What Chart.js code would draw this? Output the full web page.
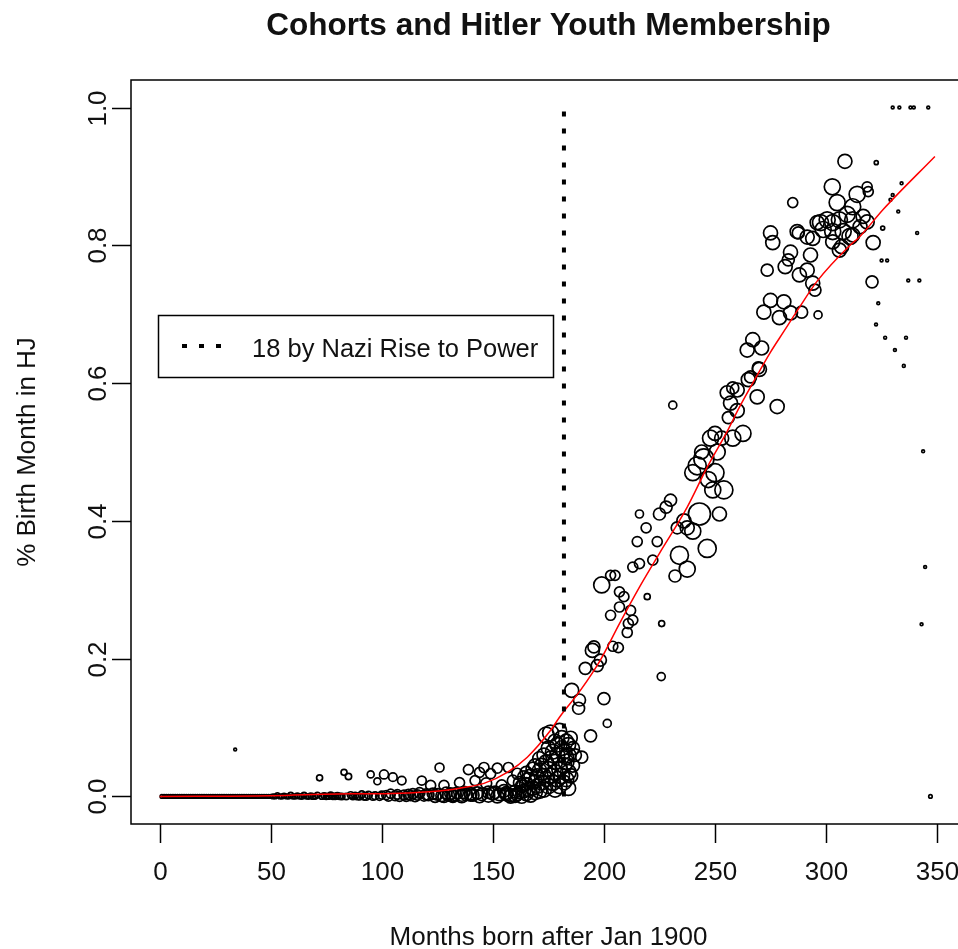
<!DOCTYPE html>
<html>
<head>
<meta charset="utf-8">
<script src="https://cdn.jsdelivr.net/npm/chart.js@4.4.0/dist/chart.umd.min.js"></script>
<style>
html,body{margin:0;padding:0;background:#fff;overflow:hidden;}
canvas{display:block;}
</style>
</head>
<body>
<canvas id="mycanvas" width="980" height="949"></canvas>
<script>
// months born after Jan 1900 (one entry per plotted cohort)
var birthMonth = [
	1,2,3,4,5,6,7,8,9,10,
	11,12,13,14,15,16,17,18,19,20,
	21,22,23,24,25,26,27,28,29,30,
	31,32,33,34,35,36,37,38,39,40,
	41,42,43,44,45,46,47,48,49,50,
	34,
	51,52,53,54,55,56,57,58,59,60,
	61,62,63,64,65,66,67,68,69,70,
	71,72,73,74,75,76,77,78,79,80,
	81,82,83,84,85,86,87,88,89,90,
	91,92,93,94,95,96,97,98,99,100,
	101,102,103,104,105,106,107,108,109,110,
	111,112,113,114,115,116,117,118,119,120,
	121,122,123,124,125,126,127,128,129,130,
	131,132,133,134,135,136,137,138,139,140,
	141,142,143,144,145,146,147,148,149,150,
	151,152,153,154,155,156,157,158,159,160,
	128,132,136,140,144,148,152,156,158,160,
	161,161,162,162,163,163,164,164,165,165,
	165,166,166,167,167,168,168,169,169,169,
	170,170,171,171,171,172,172,173,173,173,
	174,174,174,175,175,175,176,176,176,177,
	177,178,178,178,179,179,179,180,180,181,
	181,181,182,182,183,183,183,184,184,184,
	178,180,182,184,185,186,186,187,185,183,
	185.5,188.6,189,190,191.6,194,194.8,195.5,197,198.4,
	199,200,201.5,203,205,203,206.5,207,207,209,
	210.5,211,212,213,213,216,215,216,219,219.5,
	222,224,225,225.8,226,228,231,232,234,237.5,
	237.5,240,243,245,246.5,248,250,249,252,254,
	255.5,257,258,260,262.6,264.5,265,266,267,269,
	269.5,270,271,272,273.5,275,275,276,278,279,
	281,281.6,283,284,284,285,287,287.5,288,289,
	291.5,291.5,293,294,294,295,296,296.4,297.5,298.7,
	300.5,302.8,303,303,303,305,306,306,307,307.7,
	308.5,309.5,310.8,312,312,312,314,315.3,316.7,318.5,
	318.5,319,320.7,321.2,322.6,325.5,240,242,244,247,
	250,251,253,256,258,260,236,230,233,204,
	329,330,334,332.5,341,325,327.5,337,342,323.5,
	322.5,326.6,336,331,335,343.7,344.6,343,347,330,
	333,338,339.5,346
];
// share of the birth month in the Hitler Youth
var shareHJ = [
	0,0,0,0,0,0,0,0,0,0,
	0,0,0,0,0,0,0,0,0,0,
	0,0,0,0,0,0,0,0,0,0,
	0,0,0,0,0,0,0,0,0,0,
	0,0,0,0,0,0,0,0,0,0,
	0.068,
	0,0,0.002,0,0,0.001,0,0,0.002,0,
	0,0.001,0,0,0.002,0,0,0.001,0,0,
	0.002,0.027,0,0.001,0,0,0.002,0,0,0.001,
	0,0,0.035,0,0.029,0.002,0,0.001,0,0,
	0.003,0,0,0.002,0.032,0,0.001,0.022,0,0.002,
	0.032,0.002,0,0.004,0.028,0.001,0.003,0,0.023,0.002,
	0,0.003,0.001,0.004,0,0.002,0.005,0.023,0.001,0.003,
	0.002,0.016,0.004,0,0.003,0.042,0.001,0.016,0.005,0.002,
	0.004,0,0.003,0.005,0.02,0.002,0.006,0.003,0.039,0.004,
	0.002,0.023,0.005,0.035,0.003,0.042,0.019,0.006,0.033,0.004,
	0.006,0.041,0.003,0.016,0.008,0.005,0.042,0.002,0.023,0.007,
	0,0.001,0,0.002,0,0.001,0,0.003,0,0.001,
	0.003,0.033,0.006,0.02,0,0.015,0.008,0.028,0.004,0.018,
	0.035,0.01,0.025,0.002,0.03,0.012,0.04,0.006,0.022,0.045,
	0.015,0.03,0.008,0.038,0.055,0.02,0.045,0.01,0.03,0.06,
	0.025,0.05,0.089,0.015,0.04,0.07,0.03,0.055,0.092,0.02,
	0.065,0.035,0.05,0.08,0.025,0.06,0.075,0.04,0.096,0.03,
	0.07,0.085,0.045,0.065,0.05,0.08,0.057,0.035,0.06,0.075,
	0.01,0.015,0.02,0.012,0.03,0.045,0.07,0.06,0.085,0.025,
	0.154,0.128,0.14,0.057,0.186,0.088,0.212,0.217,0.19,0.198,
	0.307,0.142,0.106,0.321,0.321,0.263,0.216,0.297,0.275,0.29,
	0.238,0.251,0.27,0.256,0.333,0.338,0.37,0.41,0.39,0.29,
	0.343,0.37,0.41,0.174,0.251,0.42,0.568,0.32,0.35,0.33,
	0.39,0.385,0.41,0.49,0.36,0.52,0.527,0.445,0.41,0.445,
	0.586,0.571,0.593,0.59,0.527,0.648,0.605,0.609,0.663,0.58,
	0.622,0.62,0.651,0.703,0.764,0.818,0.72,0.804,0.566,0.695,
	0.718,0.769,0.779,0.79,0.702,0.862,0.82,0.818,0.757,0.703,
	0.812,0.764,0.786,0.745,0.81,0.735,0.833,0.699,0.833,0.823,
	0.837,0.885,0.833,0.82,0.805,0.862,0.837,0.793,0.798,0.82,
	0.922,0.845,0.813,0.856,0.837,0.815,0.874,0.827,0.842,0.885,
	0.834,0.878,0.747,0.804,0.92,0.825,0.47,0.48,0.5,0.46,
	0.47,0.5,0.52,0.55,0.52,0.56,0.4,0.43,0.39,0.218,
	0.866,0.873,0.89,0.849,0.818,0.778,0.778,0.749,0.749,0.716,
	0.685,0.666,0.666,0.648,0.625,0.501,0.333,0.25,0,1,
	1,1,1,1
];
// respondents per birth month (circle area)
var respondents = [
	3,3,3,3,3,3,3,3,3,3,
	3,3,3,3,3,3,3,3,3,3,
	3,3,3,3,3,3,3,3,3,3,
	3,3,3,3,3,3,3,3,3,3,
	3,3,3,3,3,3,3,3,3,3,
	2,
	5,5,5,5,6,6,5,6,7,6,
	6,7,6,7,7,6,7,7,8,7,
	8,9,8,8,9,8,9,9,9,10,
	9,10,9,10,10,11,10,11,11,12,
	12,13,14,14,12,14,15,12,15,16,
	20,20,22,20,18,24,22,24,18,24,
	24,26,24,26,28,26,28,20,28,30,
	30,25,32,34,32,20,34,25,34,36,
	34,36,38,36,25,38,36,38,25,38,
	38,25,38,25,38,25,30,38,25,40,
	38,25,40,30,40,40,25,42,30,42,
	36,36,40,36,40,40,42,42,44,44,
	42,30,44,36,46,40,44,40,48,42,
	36,48,44,50,44,50,46,52,48,44,
	52,48,54,50,46,54,50,56,52,48,
	56,52,64,58,54,50,58,54,64,60,
	54,60,56,50,60,56,52,60,49,60,
	56,52,60,56,60,52,56,60,56,52,
	56,56,52,52,50,44,44,40,44,56,
	49,36,36,36,36,36,49,36,36,36,
	64,36,16,25,25,25,25,25,25,25,
	25,25,25,25,25,25,25,16,25,9,
	25,25,36,16,9,36,16,36,81,64,
	49,64,121,100,81,64,49,64,49,81,
	49,49,36,49,64,49,49,36,49,49,
	36,49,49,49,36,49,49,49,49,49,
	49,49,36,49,49,25,49,36,49,36,
	49,49,49,49,49,36,49,16,64,64,
	64,64,64,64,49,64,64,49,49,64,
	49,64,64,64,64,49,64,49,49,25,
	49,25,36,49,4,4,64,81,49,64,
	81,64,49,36,64,49,49,36,36,25,
	2,2,2,2,2,2,2,2,2,2,
	2,2,2,2,2,2,2,2,3,2,
	2,2,2,2
];

// smoothed fit (red line)
var fitMonth = [0,50,86,101,123,135,146,156.5,165.5,176,180,189.4,198.4,207,216,225,237.5,246.5,255.5,261,267,275,281,288,296,310.8,315,325.7,349];
var fitShare = [0,0.001,0.004,0.004,0.007,0.012,0.019,0.035,0.057,0.096,0.115,0.154,0.198,0.251,0.304,0.353,0.42,0.478,0.53,0.565,0.6,0.645,0.675,0.71,0.748,0.8,0.812,0.852,0.929];

// cohort that was 18 when the Nazis came to power
var cutoffMonth = 182;
var legendText = "18 by Nazi Rise to Power";

var xTicks = [0,50,100,150,200,250,300,350];
var yTicks = [0,0.2,0.4,0.6,0.8,1.0];

var font = '"Liberation Sans", Arial, sans-serif';

var points = [];
for (var i in birthMonth) {
	points.push({x: birthMonth[i], y: shareHJ[i]});
}
var fitLine = [];
for (var j in fitMonth) {
	fitLine.push({x: fitMonth[j], y: fitShare[j]});
}

// draws the R style box, ticks, labels, title and legend
var rFrame = {
	id: 'rFrame',
	afterDraw: function(chart) {
		var c = chart.ctx, a = chart.chartArea;
		var xs = chart.scales.x, ys = chart.scales.y;
		c.save();
		c.strokeStyle = '#000';
		c.fillStyle = '#111';
		c.lineWidth = 1.5;
		c.strokeRect(a.left, a.top, a.right - a.left, a.bottom - a.top);

		c.font = '26px ' + font;
		c.textAlign = 'center';
		c.textBaseline = 'alphabetic';
		xTicks.forEach(function(v) {
			var px = Math.round(xs.getPixelForValue(v)) + 0.5;
			c.beginPath(); c.moveTo(px, a.bottom); c.lineTo(px, a.bottom + 19); c.stroke();
			c.fillText(String(v), px, a.bottom + 56);
		});
		yTicks.forEach(function(v) {
			var py = Math.round(ys.getPixelForValue(v)) + 0.5;
			c.beginPath(); c.moveTo(a.left - 19, py); c.lineTo(a.left, py); c.stroke();
			c.save();
			c.translate(a.left - 25, py);
			c.rotate(-Math.PI / 2);
			c.fillText(v.toFixed(1), 0, 0);
			c.restore();
		});

		var midX = (a.left + a.right) / 2;
		c.fillText('Months born after Jan 1900', midX, a.bottom + 121);
		c.save();
		c.translate(35, (a.top + a.bottom) / 2);
		c.rotate(-Math.PI / 2);
		c.fillText('% Birth Month in HJ', 0, 0);
		c.restore();

		c.font = 'bold 31.5px ' + font;
		c.fillText('Cohorts and Hitler Youth Membership', midX, 35);

		// legend
		c.lineWidth = 1.5;
		c.strokeRect(158.5, 315.5, 395, 62);
		c.lineWidth = 4;
		c.setLineDash([5, 12]);
		c.beginPath(); c.moveTo(182, 346); c.lineTo(224, 346); c.stroke();
		c.setLineDash([]);
		c.font = '25.5px ' + font;
		c.textAlign = 'left';
		c.fillText(legendText, 252, 357);
		c.restore();
	}
};

var ctx = document.getElementById('mycanvas');
var chart = new Chart(ctx, {
	type: 'scatter',
	data: {
		datasets: [
			{
				label: 'cohorts',
				data: points,
				showLine: false,
				borderColor: '#000',
				backgroundColor: 'rgba(0,0,0,0)',
				borderWidth: 1.7,
				pointRadius: function(p) { return Math.sqrt(respondents[p.dataIndex]); },
				order: 3
			},
			{
				label: 'fit',
				type: 'line',
				data: fitLine,
				borderColor: '#ff0000',
				borderWidth: 1.5,
				pointRadius: 0,
				cubicInterpolationMode: 'monotone',
				fill: false,
				order: 2
			},
			{
				label: legendText,
				type: 'line',
				data: [{x: cutoffMonth, y: 0}, {x: cutoffMonth, y: 1}],
				borderColor: '#000',
				borderWidth: 4,
				borderDash: [5, 12],
				pointRadius: 0,
				fill: false,
				order: 1
			}
		]
	},
	options: {
		responsive: false,
		animation: false,
		events: [],
		layout: {padding: {left: 131, top: 80, right: 14, bottom: 125}},
		plugins: {legend: {display: false}, tooltip: {enabled: false}, title: {display: false}},
		scales: {
			x: {type: 'linear', display: false, min: -12.9, max: 363},
			y: {type: 'linear', display: false, min: -0.04, max: 1.04}
		}
	},
	plugins: [rFrame]
});
</script>
</body>
</html>
